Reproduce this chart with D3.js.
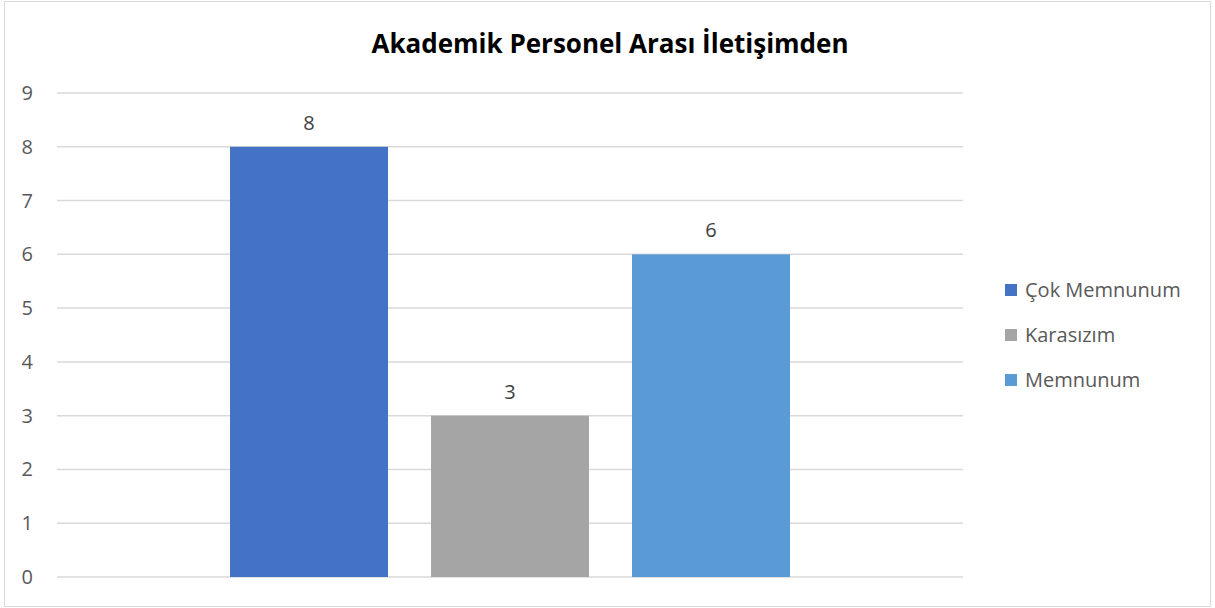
<!DOCTYPE html>
<html><head><meta charset="utf-8">
<script src="https://cdn.jsdelivr.net/npm/d3@7"></script>
<style>body{margin:0;background:#fff;} text{font-family:"Open Sans","Liberation Sans",sans-serif;}</style>
</head><body><svg id="c" width="1215" height="608"></svg>
<script>
const title = "Akademik Personel Arası İletişimden";
const seriesNames = ["Çok Memnunum", "Karasızım", "Memnunum"];
const seriesValues = [8, 3, 6];
const seriesColors = ["#4472C4", "#A5A5A5", "#5B9BD5"];
const yTicks = [0,1,2,3,4,5,6,7,8,9];

const svg = d3.select("#c");
svg.append("rect").attr("x",4.5).attr("y",1.5).attr("width",1206).attr("height",605)
  .attr("fill","#fff").attr("stroke","#d9d9d9").attr("stroke-width",1);

const x0 = 57, x1 = 963, yTop = 93, yBot = 577;
const y = d3.scaleLinear().domain([0,9]).range([yBot,yTop]);
const xb = d3.scaleBand().domain(seriesNames).range([230, 790]).paddingInner(43/201).paddingOuter(0);

svg.append("g").selectAll("line").data(yTicks).join("line")
  .attr("x1",x0).attr("x2",x1).attr("y1",d=>y(d)).attr("y2",d=>y(d))
  .attr("stroke","#d9d9d9").attr("stroke-width",1.5);

svg.append("g").selectAll("text").data(yTicks).join("text")
  .attr("x",33).attr("y",d=>y(d)).attr("dy","0.35em").attr("text-anchor","end")
  .attr("font-size",20).attr("fill","#595959").text(d=>d);

const data = seriesNames.map((n,i)=>({n, v:seriesValues[i], c:seriesColors[i]}));
svg.append("g").selectAll("rect").data(data).join("rect")
  .attr("x",d=>xb(d.n)).attr("width",xb.bandwidth())
  .attr("y",d=>y(d.v)).attr("height",d=>y(0)-y(d.v)).attr("fill",d=>d.c);

svg.append("g").selectAll("text").data(data).join("text")
  .attr("x",d=>xb(d.n)+xb.bandwidth()/2).attr("y",d=>y(d.v)-17)
  .attr("text-anchor","middle").attr("font-size",20).attr("fill","#404040").text(d=>d.v);

svg.append("text").attr("x",610).attr("y",53).attr("text-anchor","middle")
  .attr("font-size",26).attr("font-weight","bold").attr("fill","#000").text(title);

const lg = svg.append("g").selectAll("g").data(data).join("g")
  .attr("transform",(d,i)=>`translate(1005,${290+i*45})`);
lg.append("rect").attr("x",0).attr("y",-6).attr("width",12).attr("height",12).attr("fill",d=>d.c);
lg.append("text").attr("x",20).attr("y",0).attr("dy","0.35em").attr("font-size",20).attr("fill","#595959").text(d=>d.n);
</script></body></html>
